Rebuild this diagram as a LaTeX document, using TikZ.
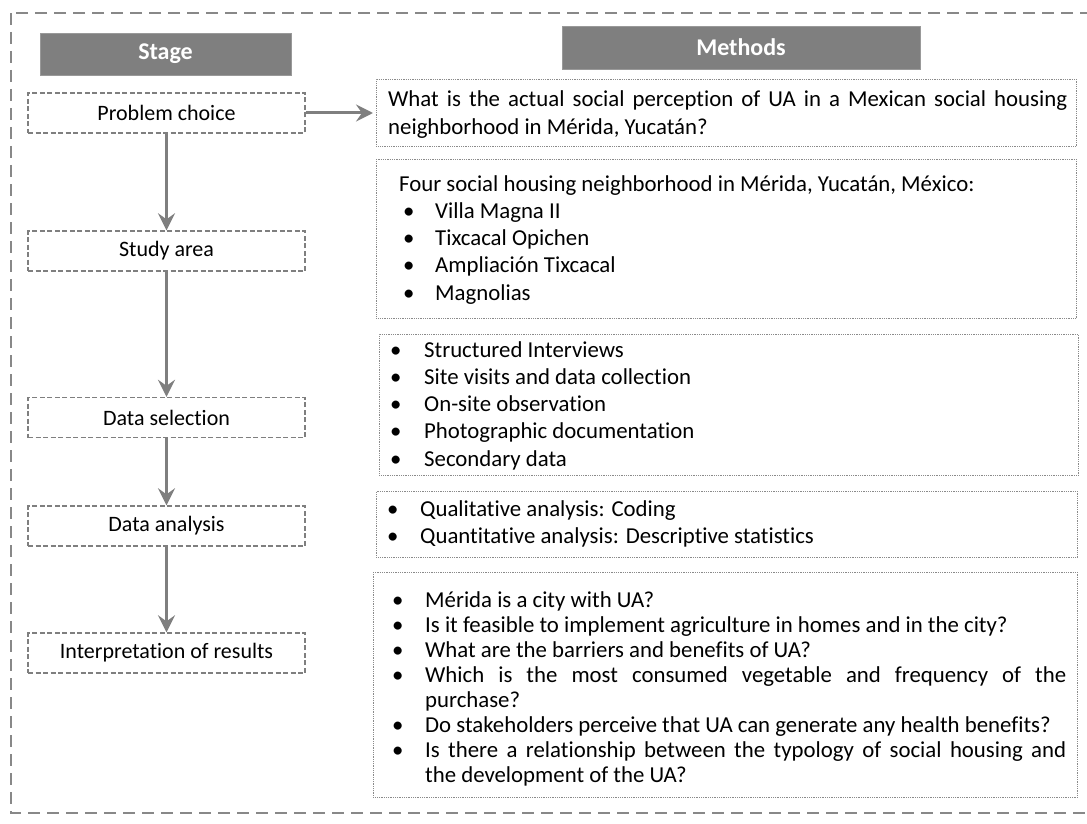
\documentclass[tikz,border=0pt]{standalone}
\usepackage{fontspec}
\setmainfont{Carlito}[Ligatures={NoCommon}]
\usetikzlibrary{arrows.meta}
\definecolor{hdr}{HTML}{7F7F7F}
\definecolor{brd}{HTML}{888888}
\definecolor{dotc}{HTML}{8A8A8A}
\newcommand{\bul}[3]{\par\noindent\hangindent=#2\hangafter=1\makebox[#2][l]{\hspace*{#1}\textbullet}#3}
\newcommand{\mfont}[1]{\fontsize{22.8}{#1}\selectfont\hyphenpenalty=10000\tolerance=9999\emergencystretch=20pt}
\tikzset{
  hdrbox/.style={fill=hdr, draw=hdr!80!white, line width=0.8pt, text=white, font=\fontsize{24}{28}\selectfont\bfseries, inner sep=0pt},
  stagebox/.style={draw=hdr, line width=1.4pt, dash pattern=on 5pt off 2.5pt, minimum width=277pt, minimum height=40pt, inner sep=0pt, font=\fontsize{22}{26}\selectfont, text=black},
  methbox/.style={draw=dotc, line width=0.9pt, dash pattern=on 0.9pt off 0.9pt, anchor=north west, inner sep=0pt},
  methtext/.style={anchor=base west, inner sep=0pt, text=black},
  arr/.style={draw=hdr, line width=3pt, -{Stealth[length=17pt, width=17pt, inset=6pt]}}
}
\begin{document}
\begin{tikzpicture}[x=1pt, y=-1pt]
\useasboundingbox (0,0) rectangle (1087,824);
\begin{scope}
\clip (0,0) rectangle (1087,824);
\draw[brd, line width=2.6pt, dash pattern=on 12pt off 7pt] (11,13) rectangle (1110,813);
\end{scope}
% headers
\node[hdrbox, minimum width=251pt, minimum height=42pt] (hs) at (165.5,54) {Stage};
\node[hdrbox, minimum width=358pt, minimum height=43pt] (hm) at (741,47.5) {Methods};
% stage boxes
\node[stagebox] (s1) at (166.5,113) {Problem choice};
\node[stagebox] (s2) at (166.5,251) {Study area};
\node[stagebox] (s3) at (166.5,417.5) {Data selection};
\node[stagebox] (s4) at (166.5,526) {Data analysis};
\node[stagebox] (s5) at (166.5,653) {Interpretation of results};
% method boxes
\node[methbox, minimum width=700pt, minimum height=67pt] (m1) at (376,79) {};
\node[methbox, minimum width=700pt, minimum height=159pt] (m2) at (376,159) {};
\node[methbox, minimum width=699pt, minimum height=141pt] (m3) at (379,334) {};
\node[methbox, minimum width=701pt, minimum height=66pt] (m4) at (376,491) {};
\node[methbox, minimum width=704pt, minimum height=225pt] (m5) at (373,572) {};
% method texts
\node[methtext] (t1) at (388,107) {\begin{minipage}[t]{679pt}\mfont{28}
What is the actual social perception of UA in a Mexican social housing neighborhood in Mérida, Yucatán?\end{minipage}};
\node[methtext] (t2) at (399,191) {\begin{minipage}[t]{670pt}\mfont{27.3}
\noindent Four social housing neighborhood in Mérida, Yucatán, México:
\bul{4pt}{36pt}{Villa Magna II}
\bul{4pt}{36pt}{Tixcacal Opichen}
\bul{4pt}{36pt}{Ampliación Tixcacal}
\bul{4pt}{36pt}{Magnolias}\end{minipage}};
\node[methtext] (t3) at (390,357) {\begin{minipage}[t]{670pt}\mfont{27.3}
\bul{0pt}{34pt}{Structured Interviews}
\bul{0pt}{34pt}{Site visits and data collection}
\bul{0pt}{34pt}{On-site observation}
\bul{0pt}{34pt}{Photographic documentation}
\bul{0pt}{34pt}{Secondary data}\end{minipage}};
\node[methtext] (t4) at (387,516) {\begin{minipage}[t]{670pt}\mfont{27.3}
\bul{0pt}{33pt}{Qualitative analysis: Coding}
\bul{0pt}{33pt}{Quantitative analysis: Descriptive statistics}\end{minipage}};
\node[methtext] (t5) at (392,607) {\begin{minipage}[t]{674pt}\mfont{25}
\bul{0pt}{33pt}{Mérida is a city with UA?}
\bul{0pt}{33pt}{Is it feasible to implement agriculture in homes and in the city?}
\bul{0pt}{33pt}{What are the barriers and benefits of UA?}
\bul{0pt}{33pt}{Which is the most consumed vegetable and frequency of the purchase?}
\bul{0pt}{33pt}{Do stakeholders perceive that UA can generate any health benefits?}
\bul{0pt}{33pt}{Is there a relationship between the typology of social housing and\linebreak the development of the UA?}\end{minipage}};
% arrows
\draw[arr] (s1) -- (s2);
\draw[arr] (s2) -- (s3);
\draw[arr] (s3) -- (s4);
\draw[arr] (s4) -- (s5);
\draw[arr, shorten >=3pt] (s1.east) -- (s1.east -| m1.west);
\end{tikzpicture}
\end{document}
